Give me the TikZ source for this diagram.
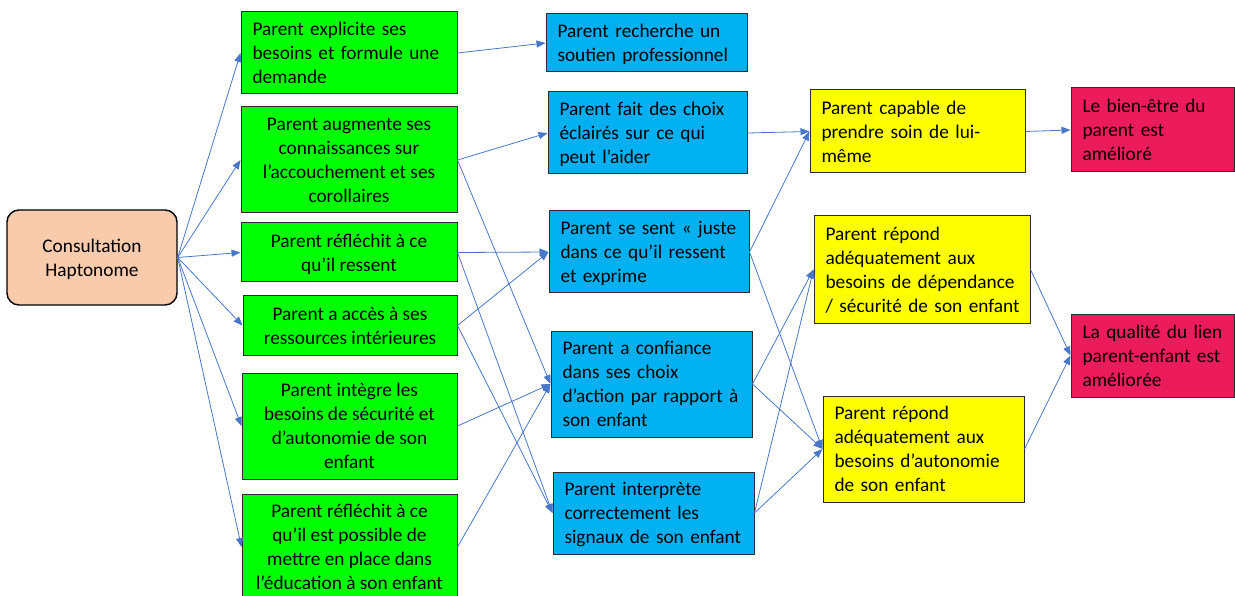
\documentclass[tikz,border=0pt]{standalone}
\usepackage{fontspec}
\setmainfont{Carlito}
\usetikzlibrary{arrows.meta}
\definecolor{cgreen}{RGB}{0,255,0}
\definecolor{cblue}{RGB}{0,176,240}
\definecolor{cyellow}{RGB}{255,255,0}
\definecolor{cred}{RGB}{236,28,92}
\definecolor{cpeach}{RGB}{248,203,173}
\definecolor{carrow}{RGB}{72,118,200}
\definecolor{cline}{RGB}{45,45,45}
\newcommand{\linesL}[1]{\raisebox{0pt}[\dimexpr\height+4pt\relax][\depth]{\begin{tabular}{@{}l@{}}#1\end{tabular}}}
\newcommand{\linesC}[1]{\raisebox{0pt}[\dimexpr\height+4pt\relax][\depth]{\begin{tabular}{@{}c@{}}#1\end{tabular}}}
\begin{document}
\begin{tikzpicture}[x=1pt,y=-1pt,
  box/.style={draw=cline, line width=1pt, inner xsep=11.5pt, inner ysep=0pt,
    font=\fontsize{19.3}{24}\selectfont, text=black},
  cbox/.style={box, align=center},
  lbox/.style={box, align=left},
  greenbox/.style={cbox, fill=cgreen},
  bluebox/.style={lbox, fill=cblue},
  yellowbox/.style={lbox, fill=cyellow},
  redbox/.style={lbox, fill=cred},
  arr/.style={draw=carrow, line width=0.8pt, -{Triangle[length=9pt,width=7pt]}}]
\useasboundingbox (0,0) rectangle (1235,596);
\clip (0,0) rectangle (1235,596);

% source
\node[box, align=center, fill=cpeach, rounded corners=12pt, line width=1.4pt, draw=black,
  minimum width=170pt, minimum height=95pt] (C) at (92,257.5) {\linesC{Consultation\\Haptonome}};

% green column
\node[greenbox, align=left, minimum width=216pt, minimum height=82pt, text width=193pt] (G1) at (349,53)
  {\linesL{Parent explicite ses\\besoins et formule une\\demande}};
\node[greenbox, minimum width=216pt, minimum height=106pt] (G2) at (349,160)
  {\linesC{Parent augmente ses\\connaissances sur\\l’accouchement et ses\\corollaires}};
\node[greenbox, minimum width=216pt, minimum height=59pt] (G3) at (349,252.5)
  {\linesC{Parent réfléchit à ce\\qu’il ressent}};
\node[greenbox, minimum width=214pt, minimum height=59pt] (G4) at (350,325.5)
  {\linesC{Parent a accès à ses\\ressources intérieures}};
\node[greenbox, minimum width=215pt, minimum height=106pt] (G5) at (349.5,426)
  {\linesC{Parent intègre les\\besoins de sécurité et\\d’autonomie de son\\enfant}};
\node[greenbox, minimum width=215pt, minimum height=106pt] (G6) at (349.5,547)
  {\linesC{Parent réfléchit à ce\\qu’il est possible de\\mettre en place dans\\l’éducation à son enfant}};

% blue column
\node[bluebox, minimum width=201pt, minimum height=58pt, text width=178pt] (B1) at (646.5,43)
  {\linesL{Parent recherche un\\soutien professionnel}};
\node[bluebox, minimum width=199pt, minimum height=82pt, text width=176pt] (B2) at (647.5,133)
  {\linesL{Parent fait des choix\\éclairés sur ce qui\\peut l’aider}};
\node[bluebox, minimum width=200pt, minimum height=82pt, text width=177pt] (B3) at (649,252)
  {\linesL{Parent se sent « juste\\dans ce qu’il ressent\\et exprime}};
\node[bluebox, minimum width=201pt, minimum height=106pt, text width=178pt] (B4) at (651.5,384)
  {\linesL{Parent a confiance\\dans ses choix\\d’action par rapport à\\son enfant}};
\node[bluebox, minimum width=201pt, minimum height=82pt, text width=178pt] (B5) at (653.5,513)
  {\linesL{Parent interprète\\correctement les\\signaux de son enfant}};

% yellow column
\node[yellowbox, minimum width=215pt, minimum height=83pt, text width=192pt] (Y1) at (917.5,131.5)
  {\linesL{Parent capable de\\prendre soin de lui-\\même}};
\node[yellowbox, minimum width=216pt, minimum height=107pt, text width=193pt] (Y2) at (922,269.5)
  {\linesL{Parent répond\\adéquatement aux\\besoins de dépendance\\/ sécurité de son enfant}};
\node[yellowbox, minimum width=201pt, minimum height=106pt, text width=178pt] (Y3) at (923.5,449)
  {\linesL{Parent répond\\adéquatement aux\\besoins d’autonomie\\de son enfant}};

% red column
\node[redbox, minimum width=163pt, minimum height=84pt, text width=140pt] (R1) at (1152.5,130)
  {\linesL{Le bien-être du\\parent est\\amélioré}};
\node[redbox, minimum width=163pt, minimum height=83pt, text width=140pt] (R2) at (1152.5,355.5)
  {\linesL{La qualité du lien\\parent-enfant est\\améliorée}};

% connectors
\foreach \g in {G1,G2,G3,G4,G5,G6} \draw[arr] (C.east) -- (\g.west);
\draw[arr] (G1.east) -- (B1.west);
\draw[arr] (G2.east) -- (B2.west);
\draw[arr] (G2.east) -- (B4.west);
\draw[arr] (G3.east) -- (B3.west);
\draw[arr] (G3.east) -- (B5.west);
\draw[arr] (G4.east) -- (B3.west);
\draw[arr] (G4.east) -- (B5.west);
\draw[arr] (G5.east) -- (B4.west);
\draw[arr] (G6.east) -- (B4.west);
\draw[arr] (B2.east) -- (Y1.west);
\draw[arr] (B3.east) -- (Y1.west);
\draw[arr] (B3.east) -- (Y3.west);
\draw[arr] (B4.east) -- (Y2.west);
\draw[arr] (B4.east) -- (Y3.west);
\draw[arr] (B5.east) -- (Y2.west);
\draw[arr] (B5.east) -- (Y3.west);
\draw[arr] (Y1.east) -- (R1.west);
\draw[arr] (Y2.east) -- (R2.west);
\draw[arr] (Y3.east) -- (R2.west);
\end{tikzpicture}
\end{document}
